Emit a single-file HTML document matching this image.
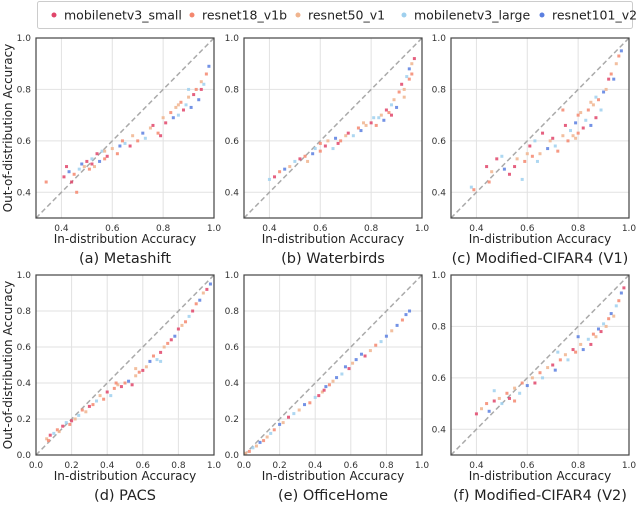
<!DOCTYPE html>
<html><head><meta charset="utf-8"><style>
body{margin:0;background:#fff;width:638px;height:502px;overflow:hidden;font-family:"Liberation Sans","DejaVu Sans",sans-serif}
svg text{font-family:"DejaVu Sans","Liberation Sans",sans-serif}
</style></head><body>
<svg id="chart" width="638" height="502" xmlns="http://www.w3.org/2000/svg"></svg>
<script>
const seriesNames=["mobilenetv3_small","resnet18_v1b","resnet50_v1","mobilenetv3_large","resnet101_v2"];
const seriesColors=["#e0456a","#f4876e","#f0b48e","#9fd0ee","#5b7fe0"];
const panelTitles=["(a) Metashift","(b) Waterbirds","(c) Modified-CIFAR4 (V1)","(d) PACS","(e) OfficeHome","(f) Modified-CIFAR4 (V2)"];
const ticksShort=[0.4,0.6,0.8,1.0];
const ticksFull=[0.0,0.2,0.4,0.6,0.8,1.0];
const dataA=[[0.41,0.46,0],[0.42,0.50,0],[0.43,0.48,4],[0.44,0.44,0],[0.45,0.47,1],[0.46,0.40,1],[0.47,0.49,3],[0.48,0.51,4],[0.49,0.50,2],[0.50,0.52,0],[0.51,0.49,1],[0.52,0.53,3],[0.53,0.50,2],[0.54,0.55,0],[0.55,0.52,4],[0.56,0.56,3],[0.57,0.53,1],[0.58,0.54,0],[0.60,0.57,2],[0.62,0.55,1],[0.63,0.58,4],[0.65,0.59,3],[0.67,0.58,0],[0.68,0.62,2],[0.70,0.60,1],[0.72,0.63,4],[0.73,0.61,3],[0.75,0.65,2],[0.76,0.66,0],[0.78,0.63,1],[0.80,0.69,2],[0.81,0.67,0],[0.83,0.71,1],[0.84,0.69,4],[0.85,0.73,2],[0.86,0.70,3],[0.87,0.75,1],[0.88,0.72,0],[0.89,0.74,3],[0.90,0.77,2],[0.91,0.73,4],[0.92,0.78,0],[0.93,0.80,1],[0.94,0.76,4],[0.95,0.83,2],[0.96,0.82,3],[0.97,0.86,1],[0.98,0.89,4],[0.34,0.44,1],[0.79,0.62,0],[0.90,0.80,3],[0.95,0.80,0],[0.52,0.51,0],[0.57,0.56,2],[0.64,0.60,1],[0.86,0.74,2]];
const dataB=[[0.40,0.45,3],[0.42,0.46,0],[0.44,0.48,1],[0.46,0.49,4],[0.48,0.50,2],[0.50,0.52,3],[0.52,0.53,0],[0.54,0.54,1],[0.55,0.52,2],[0.57,0.55,4],[0.58,0.57,3],[0.60,0.56,1],[0.62,0.58,0],[0.63,0.60,2],[0.65,0.57,3],[0.66,0.61,4],[0.68,0.60,1],[0.70,0.62,2],[0.71,0.63,0],[0.73,0.62,3],[0.75,0.65,1],[0.76,0.64,4],[0.78,0.66,2],[0.80,0.67,0],[0.81,0.69,3],[0.82,0.66,1],[0.84,0.70,2],[0.85,0.68,4],[0.86,0.72,0],[0.87,0.71,1],[0.88,0.74,3],[0.89,0.76,2],[0.90,0.73,4],[0.91,0.79,1],[0.92,0.82,0],[0.93,0.80,2],[0.94,0.85,3],[0.95,0.84,1],[0.95,0.88,4],[0.96,0.90,2],[0.97,0.92,0],[0.96,0.86,1],[0.93,0.77,2],[0.88,0.70,0],[0.83,0.69,3],[0.77,0.67,2],[0.67,0.59,0],[0.60,0.59,1]];
const dataC=[[0.38,0.42,3],[0.39,0.41,1],[0.44,0.50,0],[0.45,0.44,1],[0.46,0.48,2],[0.48,0.53,0],[0.50,0.54,3],[0.51,0.49,4],[0.53,0.47,0],[0.55,0.50,0],[0.56,0.53,2],[0.58,0.45,3],[0.59,0.52,1],[0.60,0.55,2],[0.61,0.58,0],[0.62,0.54,1],[0.64,0.52,3],[0.65,0.55,2],[0.66,0.63,0],[0.68,0.57,4],[0.69,0.60,2],[0.70,0.61,0],[0.71,0.58,3],[0.72,0.56,1],[0.74,0.62,2],[0.75,0.66,0],[0.76,0.60,1],[0.77,0.64,3],[0.78,0.62,2],[0.79,0.67,4],[0.80,0.63,1],[0.81,0.71,2],[0.82,0.65,0],[0.83,0.68,3],[0.84,0.72,1],[0.85,0.66,4],[0.86,0.74,2],[0.87,0.69,0],[0.88,0.76,1],[0.89,0.72,3],[0.90,0.79,4],[0.91,0.80,2],[0.92,0.84,0],[0.93,0.86,1],[0.94,0.84,4],[0.95,0.90,2],[0.96,0.93,1],[0.97,0.95,4],[0.80,0.70,1],[0.85,0.75,2],[0.79,0.61,2],[0.87,0.77,3],[0.74,0.72,1],[0.63,0.60,3]];
const dataD=[[0.06,0.09,2],[0.07,0.08,1],[0.08,0.11,0],[0.10,0.12,3],[0.12,0.14,1],[0.13,0.13,2],[0.15,0.16,0],[0.17,0.18,3],[0.19,0.17,1],[0.20,0.19,0],[0.22,0.20,2],[0.24,0.22,3],[0.26,0.25,1],[0.28,0.24,2],[0.30,0.27,0],[0.32,0.28,1],[0.34,0.30,3],[0.36,0.33,2],[0.38,0.31,1],[0.40,0.35,0],[0.42,0.33,3],[0.44,0.37,1],[0.46,0.39,2],[0.48,0.38,0],[0.50,0.40,1],[0.52,0.41,4],[0.54,0.39,0],[0.56,0.44,2],[0.58,0.46,1],[0.60,0.47,0],[0.62,0.49,2],[0.64,0.52,4],[0.66,0.55,1],[0.68,0.53,3],[0.70,0.57,0],[0.72,0.60,2],[0.74,0.62,1],[0.76,0.64,0],[0.78,0.66,4],[0.80,0.70,0],[0.82,0.72,2],[0.84,0.74,1],[0.86,0.77,3],[0.88,0.80,0],[0.90,0.84,1],[0.92,0.86,4],[0.94,0.90,2],[0.96,0.92,0],[0.98,0.95,4],[0.70,0.52,3],[0.56,0.48,2],[0.45,0.40,1]];
const dataE=[[0.01,0.01,2],[0.03,0.02,1],[0.05,0.04,3],[0.07,0.05,2],[0.09,0.07,4],[0.11,0.08,1],[0.13,0.10,2],[0.15,0.12,3],[0.17,0.14,1],[0.20,0.17,4],[0.22,0.18,2],[0.25,0.21,0],[0.28,0.23,3],[0.31,0.25,2],[0.34,0.28,4],[0.37,0.29,1],[0.40,0.32,3],[0.42,0.33,0],[0.44,0.35,2],[0.46,0.38,4],[0.48,0.39,1],[0.50,0.41,2],[0.52,0.43,4],[0.55,0.45,3],[0.57,0.49,4],[0.59,0.48,0],[0.61,0.51,2],[0.63,0.53,4],[0.66,0.56,4],[0.68,0.55,0],[0.71,0.58,2],[0.74,0.61,1],[0.77,0.63,3],[0.80,0.66,4],[0.83,0.69,2],[0.86,0.72,4],[0.89,0.75,1],[0.91,0.78,4],[0.93,0.80,4],[0.45,0.36,0]];
const dataF=[[0.40,0.46,0],[0.42,0.48,2],[0.44,0.50,1],[0.45,0.47,4],[0.47,0.51,0],[0.49,0.52,2],[0.50,0.50,3],[0.52,0.54,1],[0.53,0.52,0],[0.55,0.56,2],[0.57,0.54,3],[0.58,0.58,1],[0.60,0.57,4],[0.62,0.60,2],[0.63,0.58,0],[0.65,0.62,1],[0.66,0.60,3],[0.68,0.64,2],[0.70,0.65,0],[0.71,0.63,4],[0.73,0.67,1],[0.75,0.69,2],[0.76,0.67,3],[0.78,0.71,0],[0.79,0.70,1],[0.81,0.73,2],[0.82,0.71,4],[0.84,0.75,3],[0.85,0.73,0],[0.86,0.77,1],[0.87,0.76,2],[0.88,0.79,4],[0.89,0.78,0],[0.90,0.81,3],[0.91,0.80,2],[0.92,0.83,1],[0.93,0.85,4],[0.94,0.84,2],[0.95,0.88,3],[0.96,0.90,1],[0.97,0.93,4],[0.98,0.95,0],[0.47,0.55,3],[0.55,0.51,1],[0.72,0.70,3],[0.80,0.76,4]];
const panelData=[dataA,dataB,dataC,dataD,dataE,dataF];
const panelMin=[0.3,0.3,0.3,0,0,0.3];

const svg=document.getElementById('chart');
const NS="http://www.w3.org/2000/svg";
function mk(tag,attrs,parent){const e=document.createElementNS(NS,tag);for(const k in attrs)e.setAttribute(k,attrs[k]);(parent||svg).appendChild(e);return e;}

const lg=mk('g',{});


mk('rect',{x:37.5,y:1.5,width:595,height:27,rx:2,fill:'#fff',stroke:'#ccc'},lg);
const legX=[52,190,296,402,540];
seriesNames.forEach((n,i)=>{
  const g=mk('g',{},lg);
  
  
  mk('circle',{cx:legX[i]+2,cy:15,r:2.5,fill:seriesColors[i]},g);
  const t=mk('text',{x:legX[i]+12,y:19.5,'font-size':12.5,fill:'#222'},g);t.textContent=n;
});

const colX=[36,244,451], rowY=[38,275], W=178, H=180;
for(let p=0;p<6;p++){
  const x0=colX[p%3], y0=rowY[Math.floor(p/3)], mn=panelMin[p];
  const sx=v=>x0+(v-mn)/(1-mn)*W, sy=v=>y0+H-(v-mn)/(1-mn)*H;
  const g=mk('g',{});
  
  
  const ticks=mn===0?ticksFull:ticksShort;
  ticks.forEach(t=>{
    mk('line',{x1:sx(t),x2:sx(t),y1:y0,y2:y0+H,stroke:'#e2e2e2','stroke-width':1},g);
    mk('line',{x1:x0,x2:x0+W,y1:sy(t),y2:sy(t),stroke:'#e2e2e2','stroke-width':1},g);
    const tx=mk('text',{x:sx(t),y:y0+H+13,'font-size':9,fill:'#333','text-anchor':'middle'},g);tx.textContent=t.toFixed(1);
    
    const ty=mk('text',{x:x0-5,y:sy(t)+3,'font-size':9,fill:'#333','text-anchor':'end'},g);ty.textContent=t.toFixed(1);
    
  });
  mk('line',{x1:sx(mn),y1:sy(mn),x2:sx(1),y2:sy(1),stroke:'#aaa','stroke-width':1.5,'stroke-dasharray':'5,3'},g);
  panelData[p].forEach(d=>{
    const m=mk('rect',{x:sx(d[0])-1.5,y:sy(d[1])-1.5,width:3,height:3,fill:seriesColors[d[2]],opacity:0.85},g);
    
    
  });
  mk('rect',{x:x0,y:y0,width:W,height:H,fill:'none',stroke:'#444','stroke-width':1.2},g);
  const xt=mk('text',{x:x0+W/2,y:y0+H+25,'font-size':12,fill:'#222','text-anchor':'middle'},g);xt.textContent='In-distribution Accuracy';
  
  const ct=mk('text',{x:x0+W/2,y:y0+H+45,'font-size':14.5,fill:'#222','text-anchor':'middle'},g);ct.textContent=panelTitles[p];
  
  if(p%3===0){
    const yt=mk('text',{x:0,y:0,'font-size':12,fill:'#222','text-anchor':'middle',transform:`translate(12,${y0+H/2}) rotate(-90)`},g);yt.textContent='Out-of-distribution Accuracy';
    
  }
}
</script>
</body></html>
